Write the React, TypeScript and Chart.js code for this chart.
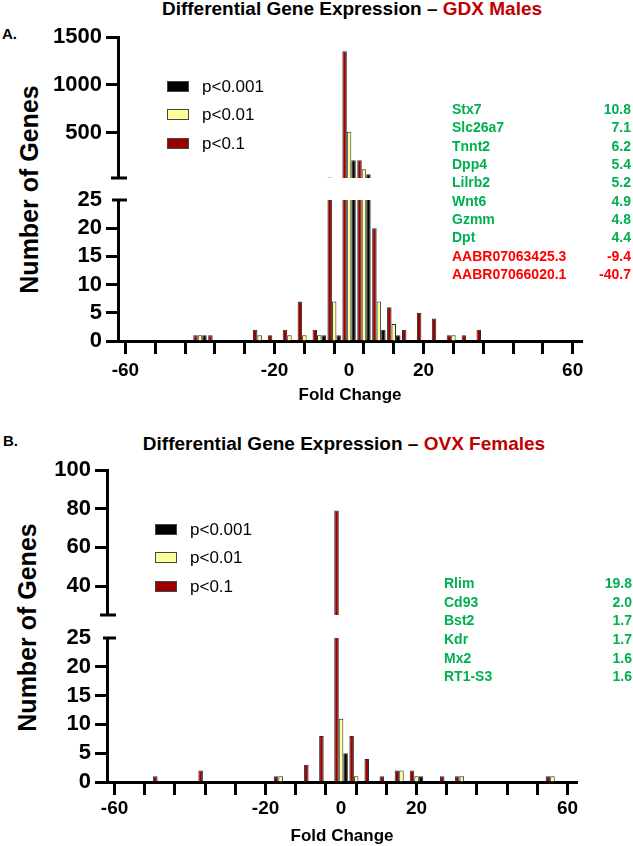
import React, { useEffect, useRef } from 'react';
import { Chart, registerables } from 'chart.js';

Chart.register(...registerables);

const FONT = "'Liberation Sans', Arial, Helvetica, sans-serif";

// histogram bin centres (fold change)
const binCenters = [-60, -56, -52, -48, -44, -40, -36, -32, -28, -24, -20, -16, -12, -8, -4, 0, 4, 8, 12, 16, 20, 24, 28, 32, 36, 40, 44, 48, 52, 56, 60];
const xTickValues = [-60, -52, -44, -36, -28, -20, -12, -4, 0, 4, 12, 20, 28, 36, 44, 52, 60];
const xLabelValues = [-60, -20, 0, 20, 60];

// Panel A – GDX Males (number of genes per bin)
const gdxP1 = [0, 0, 0, 0, 0, 1, 1, 0, 0, 2, 1, 2, 7, 2, 30, 1350, 210, 20, 6, 2, 5, 4, 1, 1, 2, 0, 0, 0, 0, 0, 0];
const gdxP01 = [0, 0, 0, 0, 0, 1, 0, 0, 0, 1, 0, 1, 1, 1, 7, 510, 116, 7, 3, 0, 0, 0, 1, 0, 0, 0, 0, 0, 0, 0, 0];
const gdxP001 = [0, 0, 0, 0, 0, 1, 0, 0, 0, 0, 0, 0, 0, 1, 1, 210, 64, 2, 1, 0, 0, 0, 0, 0, 0, 0, 0, 0, 0, 0, 0];

// Panel B – OVX Females
const ovxP1 = [0, 0, 0, 1, 0, 0, 2, 0, 0, 0, 0, 1, 0, 3, 8, 79, 8, 4, 1, 2, 2, 0, 1, 1, 0, 0, 0, 0, 0, 1, 0];
const ovxP01 = [0, 0, 0, 0, 0, 0, 0, 0, 0, 0, 0, 1, 0, 0, 0, 11, 1, 0, 0, 2, 1, 0, 0, 1, 0, 0, 0, 0, 0, 1, 0];
const ovxP001 = [0, 0, 0, 0, 0, 0, 0, 0, 0, 0, 0, 0, 0, 0, 0, 5, 0, 0, 0, 0, 1, 0, 0, 0, 0, 0, 0, 0, 0, 0, 0];

const gdxUpperTicks = [500, 1000, 1500];
const ovxUpperTicks = [40, 60, 80, 100];
const lowerTicks = [0, 5, 10, 15, 20, 25];

const gdxGenes = ['Stx7', 'Slc26a7', 'Tnnt2', 'Dpp4', 'Lilrb2', 'Wnt6', 'Gzmm', 'Dpt', 'AABR07063425.3', 'AABR07066020.1'];
const gdxFold = [10.8, 7.1, 6.2, 5.4, 5.2, 4.9, 4.8, 4.4, -9.4, -40.7];
const ovxGenes = ['Rlim', 'Cd93', 'Bst2', 'Kdr', 'Mx2', 'RT1-S3'];
const ovxFold = [19.8, 2.0, 1.7, 1.7, 1.6, 1.6];

const legendLabels = ['p<0.001', 'p<0.01', 'p<0.1'];
const legendColors = ['#000000', '#ffff99', '#990000'];

const RED = '#990000';
const YELLOW = '#ffff99';
const BLACK = '#000000';

const breakMark = {
  id: 'breakMark',
  afterDraw(chart: any, _args: any, opts: any) {
    const { ctx, chartArea } = chart;
    const y = opts.edge === 'top' ? chartArea.top : chartArea.bottom;
    ctx.save();
    ctx.strokeStyle = '#000';
    ctx.lineWidth = 3;
    ctx.beginPath();
    ctx.moveTo(chartArea.left - opts.left, y);
    ctx.lineTo(chartArea.left + opts.right, y);
    ctx.stroke();
    ctx.restore();
  },
};

type SegProps = {
  top: number;
  height: number;
  padTop: number;
  padBottom: number;
  padRight: number;
  axisX: number;
  red: number[];
  yellow: number[];
  black: number[];
  upper: boolean;
  yMin: number;
  yMax: number;
  yTicks: number[];
  showX: boolean;
  xLabelPad?: number;
  xHeight?: number;
  hideTick?: number;
  breakEdge: 'top' | 'bottom';
  breakLeft: number;
  breakRight: number;
};

function Segment(p: SegProps) {
  const ref = useRef<HTMLCanvasElement>(null);
  useEffect(() => {
    const canvas = ref.current;
    if (!canvas) return;
    const keep = (v: number) => (p.upper ? v > p.yMin : v > 0);
    const series = [
      { label: 'p<0.1', color: RED, values: p.red },
      { label: 'p<0.01', color: YELLOW, values: p.yellow },
      { label: 'p<0.001', color: BLACK, values: p.black },
    ];
    const chart = new Chart(canvas, {
      type: 'bar',
      data: {
        datasets: series.map((s) => ({
          label: s.label,
          data: binCenters.map((x, i) => ({ x, y: keep(s.values[i]) ? s.values[i] : null })),
          backgroundColor: s.color,
          borderColor: '#2b2b2b',
          borderWidth: 1,
          categoryPercentage: 0.9,
          barPercentage: 1,
        })),
      } as any,
      options: {
        responsive: false,
        animation: false,
        devicePixelRatio: 1,
        layout: { padding: { left: 0, top: p.padTop, right: p.padRight, bottom: p.padBottom } },
        plugins: {
          legend: { display: false },
          tooltip: { enabled: false },
          breakMark: { edge: p.breakEdge, left: p.breakLeft, right: p.breakRight },
        } as any,
        scales: {
          x: {
            type: 'linear',
            min: -62,
            max: 62.5,
            offset: false,
            display: p.showX,
            afterBuildTicks: (s: any) => {
              s.ticks = xTickValues.map((v) => ({ value: v }));
            },
            afterFit: (s: any) => {
              if (p.showX) s.height = p.xHeight;
            },
            grid: {
              offset: false,
              drawOnChartArea: false,
              drawTicks: true,
              tickLength: 13,
              tickWidth: 3,
              tickColor: (c: any) => (c.tick && c.tick.value === 0 ? 'rgba(0,0,0,0)' : '#000'),
            },
            border: { display: true, width: 3, color: '#000' },
            ticks: {
              autoSkip: false,
              maxRotation: 0,
              padding: p.xLabelPad ?? 4,
              color: '#000',
              font: { family: FONT, size: 19, weight: 'bold' },
              callback: (v: any) => (xLabelValues.includes(Number(v)) ? String(v) : ''),
            },
            title: {
              display: true,
              text: 'Fold Change',
              color: '#000',
              padding: 0,
              font: { family: FONT, size: 17, weight: 'bold' },
            },
          },
          y: {
            type: 'linear',
            min: p.yMin,
            max: p.yMax,
            afterBuildTicks: (s: any) => {
              s.ticks = p.yTicks.map((v) => ({ value: v }));
            },
            afterFit: (s: any) => {
              s.width = p.axisX;
            },
            grid: {
              drawOnChartArea: false,
              drawTicks: true,
              tickLength: 12,
              tickWidth: 3,
              tickColor: (c: any) => (c.tick && c.tick.value === p.hideTick ? 'rgba(0,0,0,0)' : '#000'),
            },
            border: { display: true, width: 3, color: '#000' },
            ticks: {
              autoSkip: false,
              padding: 4,
              color: '#000',
              font: { family: FONT, size: 22, weight: 'bold' },
              callback: (v: any) => String(v),
            },
          },
        } as any,
      },
      plugins: [breakMark as any],
    });
    return () => chart.destroy();
  }, []);
  return (
    <canvas
      ref={ref}
      width={633}
      height={p.height}
      style={{ position: 'absolute', left: 0, top: p.top, width: 633, height: p.height }}
    />
  );
}

function Txt(props: { x: number; cy: number; size: number; bold?: boolean; color?: string; align?: 'left' | 'right' | 'center'; children: React.ReactNode }) {
  const { x, cy, size, bold, color, align = 'left', children } = props;
  const w = 640;
  const left = align === 'left' ? x : align === 'right' ? x - w : x - w / 2;
  return (
    <div
      style={{
        position: 'absolute',
        left,
        width: w,
        top: cy - size / 2,
        height: size,
        lineHeight: `${size}px`,
        fontSize: size,
        fontWeight: bold ? 'bold' : 'normal',
        color: color || '#000',
        textAlign: align,
        whiteSpace: 'nowrap',
      }}
    >
      {children}
    </div>
  );
}

function YTitle({ cx, cy }: { cx: number; cy: number }) {
  const size = 25;
  return (
    <div
      style={{
        position: 'absolute',
        left: cx - 150,
        top: cy - size / 2,
        width: 300,
        height: size,
        lineHeight: `${size}px`,
        fontSize: size,
        fontWeight: 'bold',
        textAlign: 'center',
        transform: 'rotate(-90deg)',
        transformOrigin: '50% 50%',
        whiteSpace: 'nowrap',
      }}
    >
      Number of Genes
    </div>
  );
}

function Legend({ boxX, textX, cy0, step }: { boxX: number; textX: number; cy0: number; step: number }) {
  return (
    <>
      {legendLabels.map((l, i) => (
        <React.Fragment key={l}>
          <div
            style={{
              position: 'absolute',
              left: boxX,
              top: cy0 + i * step - 5.5,
              width: 22,
              height: 11,
              boxSizing: 'border-box',
              border: '1px solid #444',
              background: legendColors[i],
            }}
          />
          <Txt x={textX} cy={cy0 + i * step} size={17}>
            {l}
          </Txt>
        </React.Fragment>
      ))}
    </>
  );
}

function GeneList({ names, values, left, right, cy0, step }: { names: string[]; values: number[]; left: number; right: number; cy0: number; step: number }) {
  return (
    <>
      {names.map((n, i) => {
        const color = values[i] < 0 ? '#ff0000' : '#00b050';
        return (
          <React.Fragment key={n}>
            <Txt x={left} cy={cy0 + i * step} size={14} bold color={color}>
              {n}
            </Txt>
            <Txt x={right} cy={cy0 + i * step} size={14} bold color={color} align="right">
              {values[i].toFixed(1)}
            </Txt>
          </React.Fragment>
        );
      })}
    </>
  );
}

export default function App() {
  return (
    <div
      style={{
        position: 'absolute',
        left: 0,
        top: 0,
        width: 633,
        height: 846,
        overflow: 'hidden',
        background: '#fff',
        fontFamily: FONT,
      }}
    >
      {/* Panel A */}
      <Txt x={352} cy={8} size={19} bold align="center">
        Differential Gene Expression – <span style={{ color: '#c00000' }}>GDX Males</span>
      </Txt>
      <Txt x={2} cy={33} size={15} bold>
        A.
      </Txt>
      <YTitle cx={29} cy={189} />
      <Segment
        top={10}
        height={190}
        padTop={27}
        padBottom={22}
        padRight={51}
        axisX={118}
        red={gdxP1}
        yellow={gdxP01}
        black={gdxP001}
        upper
        yMin={25}
        yMax={1500}
        yTicks={gdxUpperTicks}
        showX={false}
        breakEdge="bottom"
        breakLeft={7}
        breakRight={9}
      />
      <Segment
        top={175}
        height={231}
        padTop={25}
        padBottom={0}
        padRight={51}
        axisX={118}
        red={gdxP1}
        yellow={gdxP01}
        black={gdxP001}
        upper={false}
        yMin={0}
        yMax={25}
        yTicks={lowerTicks}
        showX
        xLabelPad={5}
        xHeight={65}
        hideTick={25}
        breakEdge="top"
        breakLeft={6}
        breakRight={9}
      />
      <Legend boxX={167} textX={202} cy0={86} step={28.5} />
      <GeneList names={gdxGenes} values={gdxFold} left={452} right={631} cy0={109} step={18.33} />

      {/* Panel B */}
      <Txt x={344} cy={443} size={19} bold align="center">
        Differential Gene Expression – <span style={{ color: '#c00000' }}>OVX Females</span>
      </Txt>
      <Txt x={3} cy={440} size={15} bold>
        B.
      </Txt>
      <YTitle cx={27} cy={627} />
      <Segment
        top={445}
        height={195}
        padTop={25}
        padBottom={25}
        padRight={56}
        axisX={107}
        red={ovxP1}
        yellow={ovxP01}
        black={ovxP001}
        upper
        yMin={25}
        yMax={100}
        yTicks={ovxUpperTicks}
        showX={false}
        breakEdge="bottom"
        breakLeft={7}
        breakRight={9}
      />
      <Segment
        top={612}
        height={235}
        padTop={26}
        padBottom={0}
        padRight={56}
        axisX={107}
        red={ovxP1}
        yellow={ovxP01}
        black={ovxP001}
        upper={false}
        yMin={0}
        yMax={25}
        yTicks={lowerTicks}
        showX
        xLabelPad={2}
        xHeight={65}
        hideTick={25}
        breakEdge="top"
        breakLeft={4}
        breakRight={9}
      />
      <Legend boxX={155} textX={190} cy0={529} step={28.5} />
      <GeneList names={ovxGenes} values={ovxFold} left={444} right={632} cy0={583} step={18.66} />
    </div>
  );
}
